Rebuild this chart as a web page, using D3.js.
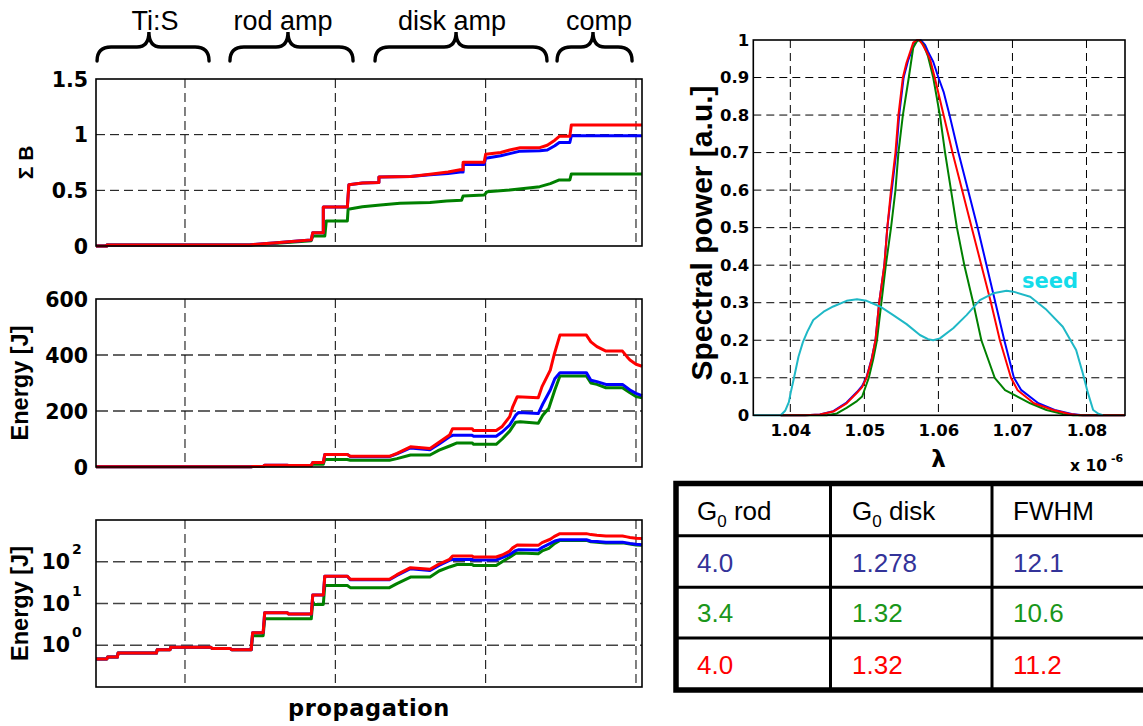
<!DOCTYPE html>
<html>
<head>
<meta charset="utf-8">
<script src="https://cdn.jsdelivr.net/npm/d3@7"></script>
<style>
  body { margin: 0; background: #fff; }
  svg { display: block; }
</style>
</head>
<body>
<svg id="fig" width="1143" height="726"></svg>
<script>
// ---------- data ----------
// propagation axis (arbitrary step units along the amplifier chain)
const propDomain = [40.8, 404];
const propGrid = [100, 200, 300, 400];

// amplifier stages shown as braces above the left-hand panels
const stageNames  = ["Ti:S", "rod amp", "disk amp", "comp"];
const stageStart  = [41.5, 129.9, 226.4, 347.5];
const stageEnd    = [116, 211.8, 340.8, 397.4];
const stageTip    = [76, 168.5, 280.3, 371.4];
const stageLabelX = [80, 165.2, 277.6, 375.4];

// accumulated B-integral along the chain
const sigmaB_blue = [[40.8,0],[48,0],[48,0.01],[143,0.01],[152,0.02],[161,0.03],[175,0.045],[184,0.055],[185,0.12],[192,0.12],[192,0.35],[208,0.35],[209,0.55],[218,0.565],[229,0.57],[229,0.62],[250,0.625],[263,0.64],[275,0.652],[283,0.665],[285,0.665],[285,0.733],[299,0.733],[300,0.788],[310,0.81],[316,0.83],[323,0.852],[336,0.856],[341,0.862],[346,0.9],[349,0.93],[356,0.93],[357,0.99],[404,0.99]];
const sigmaB_green = [[40.8,0],[48,0],[48,0.01],[143,0.01],[152,0.015],[161,0.025],[175,0.038],[184,0.048],[185,0.09],[193,0.09],[194,0.225],[208,0.225],[208.5,0.33],[218,0.352],[230,0.368],[243,0.383],[263,0.39],[274,0.405],[284,0.41],[285,0.449],[299,0.458],[301,0.488],[316,0.503],[330,0.524],[336,0.533],[343,0.56],[349,0.593],[356,0.593],[357,0.647],[404,0.647]];
const sigmaB_red = [[40.8,0],[48,0],[48,0.01],[143,0.01],[152,0.02],[161,0.03],[175,0.045],[184,0.055],[185,0.12],[192,0.12],[192,0.35],[208,0.35],[209,0.55],[218,0.565],[229,0.57],[229,0.62],[250,0.625],[263,0.645],[275,0.665],[283,0.685],[285,0.685],[285,0.752],[299,0.752],[300,0.824],[310,0.84],[316,0.862],[323,0.883],[336,0.883],[341,0.905],[346,0.95],[349,0.985],[356,0.985],[357,1.087],[404,1.087]];

// pulse energy [J] along the chain
const energy_blue = [[40.8,0.47],[48,0.47],[48.5,0.52],[55,0.52],[55.5,0.65],[81,0.65],[81.5,0.78],[90,0.78],[90.5,0.9],[117,0.9],[118,0.84],[130,0.84],[131,0.78],[144,0.78],[145,2.0],[152,2.0],[153,6.0],[168,6.0],[169,5.6],[184,5.6],[185,16],[192,16],[193,45],[208,45],[210,37],[236,37],[241,47],[250,68],[263,62],[269,82],[276,108],[278,113],[291,113],[292,110],[307,110],[311,125],[316,150],[320,185],[322,195],[335,191],[338,225],[343,275],[346,315],[349.4,337],[367,337],[370,310],[374,305],[380,295],[391,295],[396,275],[400,263],[404,255]];
const energy_green = [[40.8,0.47],[48,0.47],[48.5,0.52],[55,0.52],[55.5,0.65],[81,0.65],[81.5,0.78],[90,0.78],[90.5,0.9],[117,0.9],[118,0.84],[130,0.84],[131,0.78],[144,0.78],[145,1.7],[152,1.7],[153,4.3],[184,4.3],[185,11],[186,9.5],[192,9.5],[193,27],[208,27],[210,24],[236,24],[241,30],[250,43],[263,43],[269,60],[276,75],[281,86],[291,86],[292,81],[307,81],[311,100],[316,128],[320,160],[323,162],[335,156],[338,185],[342,210],[346,275],[349.4,325],[367,325],[370,300],[374,295],[380,283],[391,283],[396,265],[400,252],[404,247]];
const energy_red = [[40.8,0.47],[48,0.47],[48.5,0.52],[55,0.52],[55.5,0.65],[81,0.65],[81.5,0.78],[90,0.78],[90.5,0.9],[117,0.9],[118,0.84],[130,0.84],[131,0.78],[144,0.78],[145,2.0],[152,2.0],[153,6.0],[168,6.0],[169,5.6],[184,5.6],[185,16],[192,16],[193,45],[208,45],[210,38],[236,38],[241,49],[250,72],[263,66],[269,88],[276,114],[278,137],[291,137],[292,130],[307,130],[311,145],[316,180],[318,215],[321,251],[335,247],[337.5,287],[343,346],[345.5,400],[349.4,471],[367,471],[370,447],[374,430],[380,414],[391,414],[394,394],[396,382],[400,367],[404,360]];

const sigmaTicks  = [0, 0.5, 1, 1.5];
const energyTicks = [0, 200, 400, 600];
const logTicks    = [1, 10, 100];

// output spectra, wavelength in micrometres (axis shows x 10^-6 m)
const lambdaDomain = [1.035, 1.0852];
const lambdaTicks  = [1.04, 1.05, 1.06, 1.07, 1.08];
const powerTicks   = [0, 0.1, 0.2, 0.3, 0.4, 0.5, 0.6, 0.7, 0.8, 0.9, 1];

const spec_blue = [[1.0387,0],[1.0420,0],[1.0440,0.002],[1.0458,0.011],[1.0476,0.034],[1.0490,0.062],[1.0497,0.078],[1.0503,0.102],[1.0510,0.152],[1.0515,0.2],[1.0520,0.3],[1.0527,0.4],[1.0531,0.5],[1.0537,0.6],[1.0543,0.7],[1.0547,0.8],[1.0553,0.9],[1.0559,0.945],[1.0564,0.972],[1.0569,0.994],[1.0573,1.0],[1.0576,1.0],[1.0582,0.987],[1.0586,0.969],[1.0593,0.942],[1.0600,0.9],[1.0607,0.862],[1.0615,0.8],[1.0627,0.7],[1.0640,0.6],[1.0653,0.5],[1.0665,0.4],[1.0677,0.3],[1.0689,0.2],[1.0702,0.1],[1.0712,0.067],[1.0735,0.032],[1.0757,0.014],[1.0780,0.0035],[1.0795,0],[1.0852,0]];
const spec_green = [[1.0387,0],[1.0449,0],[1.0463,0.005],[1.0476,0.02],[1.0490,0.038],[1.0497,0.05],[1.0506,0.1],[1.0512,0.15],[1.0517,0.2],[1.0523,0.3],[1.0529,0.4],[1.0536,0.5],[1.0542,0.6],[1.0546,0.7],[1.0552,0.8],[1.0560,0.9],[1.0566,0.98],[1.0571,0.997],[1.0574,1.0],[1.0580,0.987],[1.0586,0.956],[1.0593,0.9],[1.0602,0.8],[1.0609,0.7],[1.0617,0.6],[1.0625,0.5],[1.0635,0.4],[1.0647,0.3],[1.0658,0.2],[1.0676,0.1],[1.0690,0.067],[1.0724,0.032],[1.0746,0.014],[1.0768,0.0035],[1.0782,0],[1.0852,0]];
const spec_red = [[1.0387,0],[1.0420,0],[1.0440,0.002],[1.0458,0.01],[1.0476,0.032],[1.0490,0.06],[1.0497,0.075],[1.0503,0.1],[1.0510,0.15],[1.0515,0.2],[1.0520,0.3],[1.0527,0.4],[1.0531,0.5],[1.0536,0.6],[1.0542,0.7],[1.0546,0.8],[1.0552,0.9],[1.0557,0.94],[1.0562,0.969],[1.0566,0.993],[1.0571,1.0],[1.0574,1.0],[1.0578,0.99],[1.0584,0.969],[1.0589,0.947],[1.0595,0.9],[1.0601,0.85],[1.0607,0.8],[1.0619,0.7],[1.0632,0.6],[1.0645,0.5],[1.0658,0.4],[1.0671,0.3],[1.0683,0.2],[1.0698,0.1],[1.0707,0.067],[1.0729,0.032],[1.0755,0.014],[1.0777,0.0035],[1.0791,0],[1.0852,0]];
const spec_seed = [[1.0350,0],[1.0387,0],[1.0393,0.012],[1.0398,0.035],[1.0401,0.065],[1.0405,0.1],[1.0411,0.156],[1.0417,0.195],[1.0423,0.223],[1.0431,0.254],[1.0445,0.276],[1.0458,0.29],[1.0476,0.305],[1.0490,0.309],[1.0503,0.305],[1.0521,0.29],[1.0539,0.267],[1.0557,0.243],[1.0575,0.214],[1.0586,0.203],[1.0593,0.2],[1.0602,0.205],[1.0620,0.232],[1.0638,0.267],[1.0656,0.307],[1.0674,0.325],[1.0692,0.332],[1.0701,0.3295],[1.0724,0.316],[1.0746,0.281],[1.0768,0.236],[1.0786,0.174],[1.0795,0.112],[1.0802,0.059],[1.0809,0.014],[1.0816,0.004],[1.0822,0]];

// simulation parameters and resulting bandwidth
const tableHead = [["G", "0", " rod"], ["G", "0", " disk"], ["FWHM", "", ""]];
const g0Rod  = ["4.0", "3.4", "4.0"];
const g0Disk = ["1.278", "1.32", "1.32"];
const fwhm   = ["12.1", "10.6", "11.2"];

// ---------- style ----------
const BLUE = "#0000ff", GREEN = "#008000", RED = "#ff0000", SEED = "#1fb8c6";
const TABLE_COLORS = ["#333399", "#1a961a", "#ff0000"];
const FONT = '"DejaVu Sans", sans-serif';
const TFONT = '"Liberation Sans", Arial, sans-serif';

const svg = d3.select("#fig");
svg.append("rect").attr("width", 1143).attr("height", 726).attr("fill", "#fff");

// ---------- left panels ----------
const xL = 96, xR = 642;
const x = d3.scaleLinear().domain(propDomain).range([xL, xR]);

const panels = [
  { top: 79, bottom: 246, y: d3.scaleLinear().domain([0, 1.5]), ticks: sigmaTicks,
    log: false, label: "Σ B", labelSize: 21, labelX: 33,
    hGrid: { stroke: "#000", width: 1, dash: "9,5" },
    series: [[sigmaB_green, GREEN], [sigmaB_blue, BLUE], [sigmaB_red, RED]] },
  { top: 299, bottom: 467, y: d3.scaleLinear().domain([0, 600]), ticks: energyTicks,
    log: false, label: "Energy [J]", labelSize: 23.5, labelX: 28,
    hGrid: { stroke: "#333", width: 1.4, dash: "12,5" },
    series: [[energy_green, GREEN], [energy_blue, BLUE], [energy_red, RED]] },
  { top: 520, bottom: 687, y: d3.scaleLog().domain([0.1, 1000]), ticks: logTicks,
    log: true, label: "Energy [J]", labelSize: 23.5, labelX: 28,
    hGrid: { stroke: "#444", width: 1.4, dash: "12,5" },
    series: [[energy_green, GREEN], [energy_blue, BLUE], [energy_red, RED]] }
];

panels.forEach(p => {
  const y = p.y.range([p.bottom, p.top]);
  const g = svg.append("g");
  const inner = p.ticks.filter(t => y(t) > p.top + 1 && y(t) < p.bottom - 1);

  // grid
  g.selectAll(".hg").data(inner).join("line")
    .attr("x1", xL).attr("x2", xR).attr("y1", d => y(d)).attr("y2", d => y(d))
    .attr("stroke", p.hGrid.stroke).attr("stroke-width", p.hGrid.width)
    .attr("stroke-dasharray", p.hGrid.dash);
  g.selectAll(".vg").data(propGrid).join("line")
    .attr("x1", d => x(d)).attr("x2", d => x(d)).attr("y1", p.top).attr("y2", p.bottom)
    .attr("stroke", "#000").attr("stroke-width", 1).attr("stroke-dasharray", "9,5");

  // curves
  const line = d3.line().x(d => x(d[0])).y(d => y(d[1]));
  p.series.forEach(([data, col]) => {
    g.append("path").attr("d", line(data)).attr("fill", "none")
      .attr("stroke", col).attr("stroke-width", 3).attr("stroke-linejoin", "round");
  });

  // frame
  g.append("rect").attr("x", xL).attr("y", p.top).attr("width", xR - xL).attr("height", p.bottom - p.top)
    .attr("fill", "none").attr("stroke", "#000").attr("stroke-width", 1.6);

  // y tick labels
  p.ticks.forEach(t => {
    if (!p.log) {
      g.append("text").attr("x", xL - 8).attr("y", y(t) + 7.5)
        .attr("text-anchor", "end").attr("font-family", FONT).attr("font-weight", "bold")
        .attr("font-size", 20.5).text(String(t));
    } else {
      g.append("text").attr("x", 70).attr("y", y(t) + 7)
        .attr("text-anchor", "end").attr("font-family", FONT).attr("font-weight", "bold")
        .attr("font-size", 20.5).text("10");
      g.append("text").attr("x", 72).attr("y", y(t) - 8)
        .attr("font-family", FONT).attr("font-weight", "bold").attr("font-size", 14)
        .text(String(Math.round(Math.log10(t))));
    }
  });

  // y label
  g.append("text")
    .attr("transform", `translate(${p.labelX},${(p.top + p.bottom) / 2}) rotate(-90)`)
    .attr("text-anchor", "middle").attr("font-family", TFONT).attr("font-weight", "bold")
    .attr("font-size", p.labelSize).text(p.label);
});

svg.append("text").attr("x", (xL + xR) / 2).attr("y", 716).attr("text-anchor", "middle")
  .attr("font-family", FONT).attr("font-weight", "bold").attr("font-size", 22.5)
  .attr("letter-spacing", 0.6).text("propagation");

// stage braces
const braceY = 47, braceEnd = 61, braceTop = 32;
stageNames.forEach((name, i) => {
  const x0 = x(stageStart[i]), x1 = x(stageEnd[i]), xm = x(stageTip[i]);
  const path = d3.path();
  path.moveTo(x0, braceEnd);
  path.quadraticCurveTo(x0, braceY, x0 + 14, braceY);
  path.lineTo(xm - 12, braceY);
  path.quadraticCurveTo(xm, braceY, xm, braceTop);
  path.quadraticCurveTo(xm, braceY, xm + 12, braceY);
  path.lineTo(x1 - 14, braceY);
  path.quadraticCurveTo(x1, braceY, x1, braceEnd);
  svg.append("path").attr("d", path.toString()).attr("fill", "none")
    .attr("stroke", "#000").attr("stroke-width", 3.4).attr("stroke-linecap", "round");
  svg.append("text").attr("x", x(stageLabelX[i])).attr("y", 30).attr("text-anchor", "middle")
    .attr("font-family", TFONT).attr("font-size", 27).text(name);
});

// ---------- spectrum panel ----------
const sL = 753.3, sR = 1125, sT = 40, sB = 415.3;
const xs = d3.scaleLinear().domain(lambdaDomain).range([sL, sR]);
const ys = d3.scaleLinear().domain([0, 1]).range([sB, sT]);
const gs = svg.append("g");

gs.selectAll(".hg").data(powerTicks.slice(1, -1)).join("line")
  .attr("x1", sL).attr("x2", sR).attr("y1", d => ys(d)).attr("y2", d => ys(d))
  .attr("stroke", "#000").attr("stroke-width", 1).attr("stroke-dasharray", "8,5");
gs.selectAll(".vg").data(lambdaTicks).join("line")
  .attr("x1", d => xs(d)).attr("x2", d => xs(d)).attr("y1", sT).attr("y2", sB)
  .attr("stroke", "#000").attr("stroke-width", 1).attr("stroke-dasharray", "8,5");

const sline = d3.line().x(d => xs(d[0])).y(d => ys(d[1]));
[[spec_blue, BLUE], [spec_green, GREEN], [spec_red, RED], [spec_seed, SEED]].forEach(([data, col]) => {
  gs.append("path").attr("d", sline(data)).attr("fill", "none")
    .attr("stroke", col).attr("stroke-width", 2).attr("stroke-linejoin", "round");
});

gs.append("rect").attr("x", sL).attr("y", sT).attr("width", sR - sL).attr("height", sB - sT)
  .attr("fill", "none").attr("stroke", "#000").attr("stroke-width", 1.6);

const axY = gs.append("g").attr("transform", `translate(${sL},0)`)
  .call(d3.axisLeft(ys).tickValues(powerTicks).tickFormat(d => d === 0 ? "0" : d === 1 ? "1" : d.toFixed(1)).tickSize(0).tickPadding(4));
const axX = gs.append("g").attr("transform", `translate(0,${sB})`)
  .call(d3.axisBottom(xs).tickValues(lambdaTicks).tickFormat(d3.format(".2f")).tickSize(0).tickPadding(9));
[axY, axX].forEach(a => {
  a.select(".domain").remove();
  a.selectAll("text").attr("font-family", FONT).attr("font-weight", "bold")
    .attr("font-size", 16.5).attr("fill", "#000");
});

gs.append("text").attr("transform", `translate(712,233) rotate(-90)`)
  .attr("text-anchor", "middle").attr("font-family", TFONT).attr("font-weight", "bold")
  .attr("font-size", 30).text("Spectral power [a.u.]");
gs.append("text").attr("x", xs(1.06)).attr("y", 467).attr("text-anchor", "middle")
  .attr("font-family", FONT).attr("font-weight", "bold").attr("font-size", 23).text("λ");
gs.append("text").attr("x", 1070).attr("y", 471)
  .attr("font-family", FONT).attr("font-weight", "bold").attr("font-size", 15.5).text("x 10");
gs.append("text").attr("x", 1111).attr("y", 462)
  .attr("font-family", FONT).attr("font-weight", "bold").attr("font-size", 11).text("-6");
gs.append("text").attr("x", 1022).attr("y", 288)
  .attr("font-family", FONT).attr("font-weight", "bold").attr("font-size", 21)
  .attr("fill", "#14dcea").text("seed");

// ---------- parameter table ----------
const tL = 676, tT = 483.5, tB = 690, tRt = 1160;
const colLines = [830.5, 992];
const rowLines = [535.7, 587.3, 638];
const colX = [697, 852, 1013];
const rowBase = [519.5, 572, 622, 673.5];
const gt = svg.append("g");
gt.append("rect").attr("x", tL).attr("y", tT).attr("width", tRt - tL).attr("height", tB - tT)
  .attr("fill", "#fff").attr("stroke", "#000").attr("stroke-width", 5.5);
colLines.forEach(cx => gt.append("line").attr("x1", cx).attr("x2", cx).attr("y1", tT).attr("y2", tB)
  .attr("stroke", "#000").attr("stroke-width", 3));
rowLines.forEach(ry => gt.append("line").attr("x1", tL).attr("x2", tRt).attr("y1", ry).attr("y2", ry)
  .attr("stroke", "#000").attr("stroke-width", 3));

tableHead.forEach((h, c) => {
  const t = gt.append("text").attr("x", colX[c]).attr("y", rowBase[0])
    .attr("font-family", TFONT).attr("font-size", 26).attr("fill", "#000");
  t.append("tspan").text(h[0]);
  if (h[1]) t.append("tspan").attr("font-size", 17).attr("dy", 7).text(h[1]);
  if (h[2]) t.append("tspan").attr("dy", h[1] ? -7 : 0).text(h[2]);
});
[g0Rod, g0Disk, fwhm].forEach((col, c) => {
  col.forEach((v, r) => {
    gt.append("text").attr("x", colX[c]).attr("y", rowBase[r + 1])
      .attr("font-family", TFONT).attr("font-size", 26).attr("fill", TABLE_COLORS[r]).text(v);
  });
});
</script>
</body>
</html>
